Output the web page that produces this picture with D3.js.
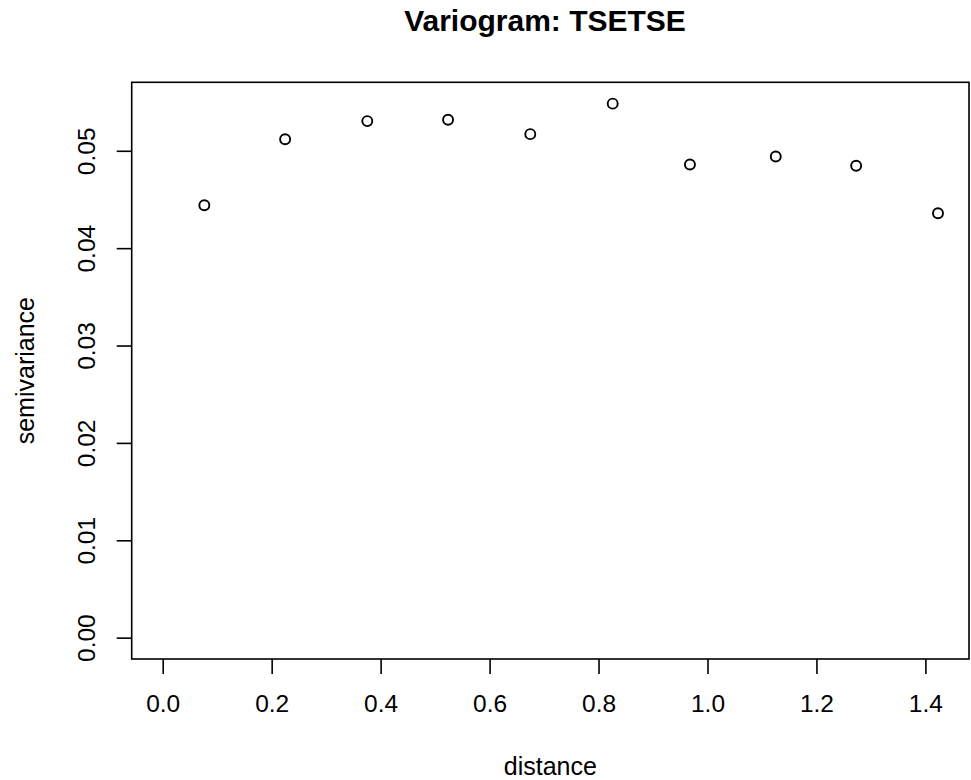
<!DOCTYPE html>
<html>
<head>
<meta charset="utf-8">
<script src="https://cdn.jsdelivr.net/npm/d3@7"></script>
<style>
  html, body { margin: 0; padding: 0; background: #fff; }
  svg { display: block; }
  text { font-family: "Liberation Sans", Arial, sans-serif; fill: #000; }
</style>
</head>
<body>
<svg id="chart" width="971" height="780"></svg>
<script>
const title = "Variogram: TSETSE";
const xLabel = "distance";
const yLabel = "semivariance";
const distance = [0.0764, 0.2247, 0.3755, 0.5238, 0.6747, 0.8260, 0.9678, 1.1253, 1.2729, 1.4231];
const gamma = [0.04440, 0.05119, 0.05305, 0.05319, 0.05171, 0.05484, 0.04859, 0.04941, 0.04846, 0.04358];
const xTicks = [0.0, 0.2, 0.4, 0.6, 0.8, 1.0, 1.2, 1.4];
const yTicks = [0.00, 0.01, 0.02, 0.03, 0.04, 0.05];

const svg = d3.select("#chart");
const box = { left: 131.7, right: 969, top: 82.3, bottom: 659 };

const xMax = d3.max(distance), yMax = d3.max(gamma);
const x = d3.scaleLinear()
  .domain([0 - 0.04 * xMax, xMax * 1.04])
  .range([box.left, box.right]);
const y = d3.scaleLinear()
  .domain([0 - 0.04 * yMax, yMax * 1.04])
  .range([box.bottom, box.top]);

// box
svg.append("rect")
  .attr("x", box.left).attr("y", box.top)
  .attr("width", box.right - box.left).attr("height", box.bottom - box.top)
  .attr("fill", "none").attr("stroke", "#000").attr("stroke-width", 1.6);

// x axis
const xAxis = d3.axisBottom(x).tickValues(xTicks).tickFormat(d3.format(".1f"))
  .tickSize(15).tickPadding(21);
const gx = svg.append("g").attr("transform", `translate(0,${box.bottom})`).call(xAxis);
gx.select(".domain").remove();
gx.selectAll(".tick line").attr("stroke", "#000").attr("stroke-width", 1.6);
gx.selectAll(".tick text").attr("font-size", 24.5).attr("font-family", "Liberation Sans, Arial, sans-serif").attr("fill", "#000");

// y axis
const yAxis = d3.axisLeft(y).tickValues(yTicks).tickFormat(d3.format(".2f"))
  .tickSize(15).tickPadding(0);
const gy = svg.append("g").attr("transform", `translate(${box.left},0)`).call(yAxis);
gy.select(".domain").remove();
gy.selectAll(".tick line").attr("stroke", "#000").attr("stroke-width", 1.6);
gy.selectAll(".tick text")
  .attr("font-size", 24.5).attr("font-family", "Liberation Sans, Arial, sans-serif").attr("fill", "#000")
  .attr("x", null).attr("dy", null)
  .attr("text-anchor", "middle")
  .attr("transform", "translate(-37,0) rotate(-90)");

// points
svg.append("g").selectAll("circle")
  .data(distance.map((d, i) => [d, gamma[i]]))
  .join("circle")
  .attr("cx", d => x(d[0]))
  .attr("cy", d => y(d[1]))
  .attr("r", 5)
  .attr("fill", "none")
  .attr("stroke", "#000")
  .attr("stroke-width", 1.9);

// title
svg.append("text")
  .attr("x", 545).attr("y", 31)
  .attr("text-anchor", "middle")
  .attr("font-size", 30).attr("font-weight", "bold")
  .text(title);

// axis labels
svg.append("text")
  .attr("x", (box.left + box.right) / 2).attr("y", 775)
  .attr("text-anchor", "middle")
  .attr("font-size", 25)
  .text(xLabel);

svg.append("text")
  .attr("transform", `translate(34,${(box.top + box.bottom) / 2}) rotate(-90)`)
  .attr("text-anchor", "middle")
  .attr("font-size", 25)
  .text(yLabel);
</script>
</body>
</html>
